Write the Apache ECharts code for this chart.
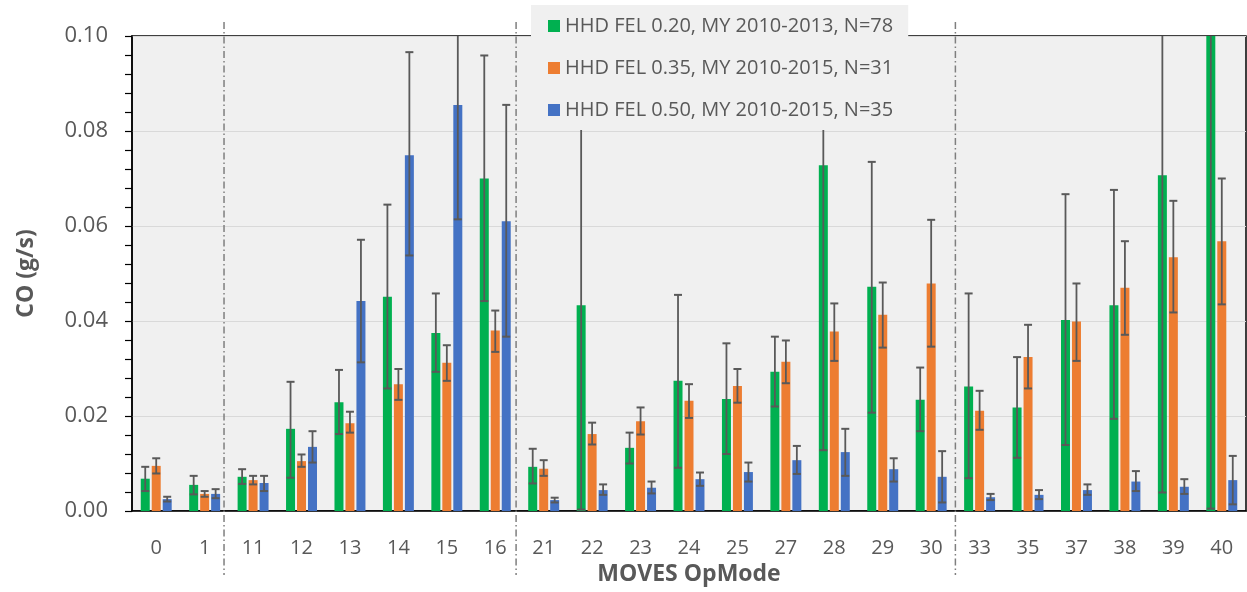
<!DOCTYPE html>
<html>
<head>
<meta charset="utf-8">
<script src="https://cdn.jsdelivr.net/npm/echarts@6/dist/echarts.min.js"></script>
<style>
  html, body { margin: 0; padding: 0; background: #fff; }
  #chart { width: 1247px; height: 592px; }
</style>
</head>
<body>
<div id="chart"></div>
<script>
// MOVES operating modes on the category axis
const categories = ['0', '1', '11', '12', '13', '14', '15', '16', '21', '22', '23', '24',
  '25', '27', '28', '29', '30', '33', '35', '37', '38', '39', '40'];

const seriesNames = [
  'HHD FEL 0.20, MY 2010-2013, N=78',
  'HHD FEL 0.35, MY 2010-2015, N=31',
  'HHD FEL 0.50, MY 2010-2015, N=35'
];

// Mean CO rate (g/s) and the low / high ends of each error bar
const fel020 = [0.0068, 0.0055, 0.0072, 0.0173, 0.0229, 0.0451, 0.0375, 0.0700, 0.0093, 0.0433, 0.0133, 0.0274,
  0.0236, 0.0293, 0.0728, 0.0472, 0.0234, 0.0262, 0.0218, 0.0402, 0.0433, 0.0707, 0.1100];
const fel020Low = [0.0042, 0.0035, 0.0057, 0.0070, 0.0162, 0.0258, 0.0293, 0.0442, 0.0058, 0.0003, 0.0100, 0.0091,
  0.0120, 0.0220, 0.0128, 0.0207, 0.0168, 0.0069, 0.0112, 0.0139, 0.0194, 0.0039, 0.0005];
const fel020High = [0.0093, 0.0074, 0.0088, 0.0272, 0.0297, 0.0645, 0.0458, 0.0959, 0.0131, 0.0863, 0.0165, 0.0455,
  0.0353, 0.0367, 0.1328, 0.0735, 0.0302, 0.0458, 0.0324, 0.0667, 0.0676, 0.1375, 0.2000];

const fel035 = [0.0095, 0.0036, 0.0065, 0.0105, 0.0185, 0.0267, 0.0312, 0.0380, 0.0089, 0.0162, 0.0189, 0.0232,
  0.0263, 0.0314, 0.0378, 0.0413, 0.0479, 0.0211, 0.0324, 0.0399, 0.0470, 0.0534, 0.0568];
const fel035Low = [0.0079, 0.0030, 0.0056, 0.0093, 0.0165, 0.0234, 0.0274, 0.0335, 0.0074, 0.0140, 0.0161, 0.0196,
  0.0228, 0.0269, 0.0316, 0.0344, 0.0346, 0.0171, 0.0258, 0.0316, 0.0371, 0.0418, 0.0435];
const fel035High = [0.0111, 0.0042, 0.0074, 0.0119, 0.0209, 0.0299, 0.0349, 0.0422, 0.0107, 0.0186, 0.0218, 0.0267,
  0.0299, 0.0359, 0.0437, 0.0481, 0.0613, 0.0253, 0.0392, 0.0479, 0.0568, 0.0653, 0.0700];

const fel050 = [0.0025, 0.0036, 0.0059, 0.0135, 0.0442, 0.0749, 0.0855, 0.0610, 0.0023, 0.0044, 0.0049, 0.0067,
  0.0082, 0.0107, 0.0124, 0.0088, 0.0072, 0.0029, 0.0034, 0.0044, 0.0062, 0.0051, 0.0065];
const fel050Low = [0.0020, 0.0027, 0.0042, 0.0102, 0.0313, 0.0538, 0.0614, 0.0367, 0.0018, 0.0034, 0.0037, 0.0053,
  0.0062, 0.0078, 0.0074, 0.0062, 0.0018, 0.0023, 0.0025, 0.0034, 0.0042, 0.0036, 0.0014];
const fel050High = [0.0030, 0.0046, 0.0074, 0.0168, 0.0571, 0.0966, 0.1096, 0.0855, 0.0028, 0.0056, 0.0062, 0.0081,
  0.0102, 0.0137, 0.0173, 0.0111, 0.0126, 0.0036, 0.0044, 0.0056, 0.0084, 0.0067, 0.0116];

// Group separators, in category-index units (0 = centre of the first category)
const separators = [1.40, 7.43, 16.50];

const yTicks = { min: 0, max: 0.1, interval: 0.02 };

const colors = ['#00b050', '#ed7d31', '#4472c4'];
const FONT = '"Open Sans", "Noto Sans", sans-serif';
const TEXT = '#595959';
const BAR_WIDTH = 9;
const BAR_GAP = '22%';

const means = [fel020, fel035, fel050];
const lows = [fel020Low, fel035Low, fel050Low];
const highs = [fel020High, fel035High, fel050High];

function errorBarRenderer(slot) {
  return function (params, api) {
    const cat = api.value(0);
    const layout = api.barLayout({ count: 3, barWidth: BAR_WIDTH, barGap: BAR_GAP });
    const off = layout[slot].offsetCenter;
    const top = api.coord([cat, api.value(2)]);
    const bot = api.coord([cat, api.value(1)]);
    const x = top[0] + off;
    const half = 4;
    const capStyle = { stroke: '#595959', lineWidth: 2 };
    return {
      type: 'group',
      children: [
        { type: 'line', shape: { x1: x, y1: top[1], x2: x, y2: bot[1] }, style: { stroke: '#595959', lineWidth: 1.8 } },
        { type: 'line', shape: { x1: x - half, y1: top[1], x2: x + half, y2: top[1] }, style: capStyle },
        { type: 'line', shape: { x1: x - half, y1: bot[1], x2: x + half, y2: bot[1] }, style: capStyle }
      ]
    };
  };
}

const barSeries = seriesNames.map((name, s) => ({
  name,
  type: 'bar',
  barWidth: BAR_WIDTH,
  barGap: BAR_GAP,
  itemStyle: { color: colors[s] },
  data: means[s],
  z: 2
}));

const errorSeries = seriesNames.map((name, s) => ({
  type: 'custom',
  name: name + ' error',
  renderItem: errorBarRenderer(s),
  clip: true,
  encode: { x: 0, y: [1, 2] },
  data: categories.map((c, i) => [i, lows[s][i], highs[s][i]]),
  z: 3,
  silent: true
}));

const separatorSeries = {
  type: 'custom',
  name: 'separators',
  xAxisIndex: 1,
  clip: false,
  silent: true,
  data: separators.map(v => [v]),
  encode: { x: 0 },
  renderItem: function (params, api) {
    const x = api.value(0);
    const top = api.coord([x, yTicks.max]);
    const bot = api.coord([x, yTicks.min]);
    return {
      type: 'line',
      shape: { x1: top[0], y1: top[1] - 14, x2: bot[0], y2: bot[1] + 64 },
      style: { stroke: '#7f7f7f', lineWidth: 1.5, lineDash: [7, 3, 1.5, 3] }
    };
  },
  z: 1
};

const chart = echarts.init(document.getElementById('chart'));
chart.setOption({
  animation: false,
  backgroundColor: '#ffffff',
  textStyle: { fontFamily: FONT },
  grid: {
    left: 132, right: 1, top: 36, bottom: 81,
    outerBoundsMode: 'none',
    containLabel: false,
    show: true,
    backgroundColor: '#f0f0f0',
    borderColor: '#000000',
    borderWidth: 1.5
  },
  legend: {
    data: seriesNames,
    orient: 'vertical',
    left: 531,
    top: 5,
    backgroundColor: '#f0f0f0',
    padding: [11, 15, 10, 17],
    itemGap: 22,
    itemWidth: 12,
    itemHeight: 12,
    icon: 'rect',
    textStyle: { fontFamily: FONT, fontSize: 20, color: TEXT },
    z: 10
  },
  xAxis: [
    {
      type: 'category',
      data: categories,
      name: 'MOVES OpMode',
      nameLocation: 'middle',
      nameGap: 49,
      nameTextStyle: { fontFamily: FONT, fontSize: 23, fontWeight: 'bold', color: TEXT },
      axisLine: { lineStyle: { color: '#000', width: 1.5 } },
      axisTick: { show: false },
      axisLabel: { fontFamily: FONT, fontSize: 20, color: TEXT, margin: 27 },
      splitLine: { show: false }
    },
    {
      type: 'value',
      min: -0.5,
      max: categories.length - 0.5,
      show: false
    }
  ],
  yAxis: {
    type: 'value',
    min: yTicks.min,
    max: yTicks.max,
    interval: yTicks.interval,
    name: 'CO (g/s)',
    nameLocation: 'middle',
    nameGap: 94,
    nameTextStyle: { fontFamily: FONT, fontSize: 23, fontWeight: 'bold', color: TEXT },
    axisLine: { show: true, onZero: false, lineStyle: { color: '#000', width: 1.5 } },
    axisTick: { show: true, inside: false, length: 7, lineStyle: { color: '#000', width: 1.2 } },
    minorTick: { show: true, splitNumber: 5, length: 7, lineStyle: { color: '#000', width: 1.2 } },
    axisLabel: { fontFamily: FONT, fontSize: 22, color: TEXT, margin: 24, formatter: v => v.toFixed(2) },
    splitLine: { show: true, lineStyle: { color: '#d9d9d9', width: 1.2 } }
  },
  series: [...barSeries, ...errorSeries, separatorSeries]
});
</script>
</body>
</html>
